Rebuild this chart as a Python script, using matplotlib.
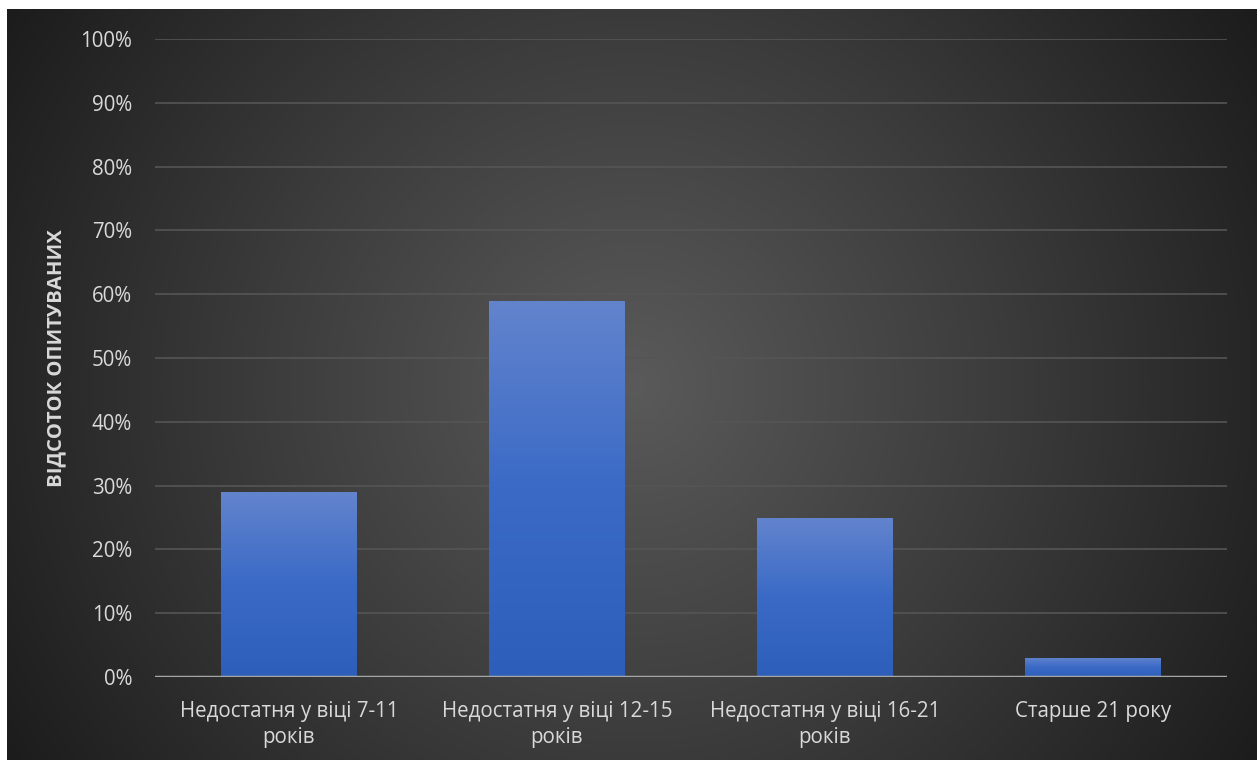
import numpy as np
import matplotlib
matplotlib.use("Agg")
import matplotlib.pyplot as plt
from matplotlib.colors import LinearSegmentedColormap

plt.rcParams['font.family'] = ['Open Sans', 'DejaVu Sans']

# Data
categories = ["Недостатня у віці 7-11\nроків", "Недостатня у віці 12-15\nроків",
              "Недостатня у віці 16-21\nроків", "Старше 21 року"]
values = [0.29, 0.59, 0.25, 0.03]
yticks = [0.0, 0.1, 0.2, 0.3, 0.4, 0.5, 0.6, 0.7, 0.8, 0.9, 1.0]
ylabel = "ВІДСОТОК ОПИТУВАНИХ"

text_color = "#d9d9d9"

fig = plt.figure(figsize=(12.6, 7.6), dpi=100)
fig.patch.set_facecolor("white")

# dark radial background (chart area inside a thin white margin)
bg = fig.add_axes([7 / 1260, 0, 1250 / 1260, 751 / 760])
bg.set_axis_off()
h, w = 376, 625
yy, xx = np.mgrid[0:h, 0:w]
r = np.hypot((xx - w * 0.5) / (w * 0.5), (yy - h * 0.5) / (h * 0.5) * 0.62)
r = r / r.max()
bg_cmap = LinearSegmentedColormap.from_list("bg", ["#5a5a5a", "#3c3c3c", "#1c1c1c"])
bg.imshow(r, cmap=bg_cmap, aspect="auto", extent=[0, 1, 0, 1], vmin=0, vmax=1)
bg.set_xlim(0, 1)
bg.set_ylim(0, 1)

ax = fig.add_axes([155 / 1260, 1 - 677 / 760, 1072 / 1260, 638 / 760])
ax.patch.set_alpha(0)
x = np.arange(len(categories))
bars = ax.bar(x, values, width=0.505, color="#4472c4", zorder=3)

# vertical gradient inside each bar
bar_cmap = LinearSegmentedColormap.from_list("bar", ["#2d5fba", "#3a6ac6", "#6384cd"])
grad = np.linspace(0, 1, 256).reshape(-1, 1)
for b in bars:
    x0, y0 = b.get_x(), b.get_y()
    im = ax.imshow(grad, cmap=bar_cmap, aspect="auto", origin="lower",
                   extent=[x0, x0 + b.get_width(), y0, y0 + b.get_height()], zorder=4)
    im.set_clip_path(b)

ax.set_xlim(-0.5, len(categories) - 0.5)
ax.set_ylim(0, 1.0)
ax.set_yticks(yticks)
ax.set_yticklabels([f"{int(round(t * 100))}%" for t in yticks])
ax.set_xticks(x)
ax.set_xticklabels(categories, linespacing=1.35)

ax.grid(axis="y", color="#555555", linewidth=1.2, zorder=1)
ax.set_axisbelow(True)
ax.axhline(0, color="#a6a6a6", linewidth=2.5, zorder=5)
for s in ax.spines.values():
    s.set_visible(False)

ax.tick_params(axis="both", length=0, colors=text_color, labelsize=14.8)
ax.tick_params(axis="y", pad=16.5)
ax.tick_params(axis="x", pad=17)

ax.set_ylabel(ylabel, color=text_color, fontsize=14.6, fontweight="bold")
ax.yaxis.set_label_coords(-0.083, 0.5)

fig.savefig("out.png", dpi=100)
